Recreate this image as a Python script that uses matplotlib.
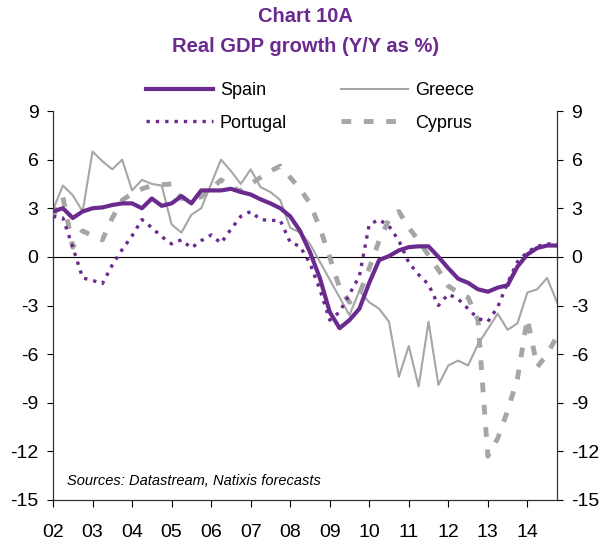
import numpy as np
import pandas as pd
import matplotlib
matplotlib.use('Agg')
import matplotlib.pyplot as plt
from matplotlib.lines import Line2D

# quarterly data, 2002Q1 .. 2014Q4
quarters = pd.period_range('2002Q1', '2014Q4', freq='Q')
years = [str(y)[2:] for y in range(2002, 2015)]

spain = [2.8, 3.0, 2.4, 2.8,
         3.0, 3.05, 3.2, 3.3,
         3.3, 3.0, 3.6, 3.15,
         3.3, 3.75, 3.3, 4.1,
         4.1, 4.1, 4.2, 4.0,
         3.85, 3.55, 3.3, 3.0,
         2.5, 1.6, 0.3, -1.3,
         -3.4, -4.4, -3.9, -3.2,
         -1.6, -0.2, 0.05, 0.4,
         0.6, 0.65, 0.65, 0.0,
         -0.7, -1.35, -1.6, -2.0,
         -2.15, -1.9, -1.75, -0.6,
         0.15, 0.55, 0.7, 0.7]

greece = [2.9, 4.4, 3.8, 2.8,
          6.5, 5.9, 5.4, 6.0,
          4.1, 4.75, 4.5, 4.4,
          2.0, 1.5, 2.6, 3.0,
          4.5, 6.0, 5.3, 4.5,
          5.4, 4.3, 4.0, 3.5,
          1.8, 1.5, 0.8, -0.3,
          -1.4, -2.5, -3.6, -2.1,
          -2.8, -3.2, -4.0, -7.4,
          -5.5, -8.0, -4.0, -7.9,
          -6.7, -6.4, -6.7, -5.4,
          -4.45, -3.5, -4.5, -4.1,
          -2.2, -2.0, -1.3, -2.8]

portugal = [2.5, 2.4, 0.6, -1.3,
            -1.45, -1.65, -0.5, 0.45,
            1.3, 2.3, 1.8, 1.25,
            0.8, 1.05, 0.55, 1.0,
            1.35, 0.85, 1.7, 2.5,
            2.8, 2.3, 2.25, 2.25,
            0.9, 0.65, -0.4, -2.0,
            -3.9, -3.4, -2.3, -1.2,
            2.0, 2.3, 1.9, 1.0,
            -0.35, -1.1, -1.7, -3.0,
            -2.3, -2.6, -3.2, -3.8,
            -4.0, -3.1, -1.6, -0.3,
            0.3, 0.65, 0.8, 0.8]

cyprus = [2.5, 3.7, 0.6, 1.6,
          1.3, 1.05, 2.4, 3.5,
          3.9, 4.2, 4.4, 4.45,
          4.5, 3.6, 3.6, 3.7,
          4.2, 4.75, 4.3, 4.05,
          4.5, 4.9, 5.3, 5.6,
          4.9, 4.2, 3.3, 1.8,
          0.0, -1.9, -2.8, -2.3,
          -0.7, 1.0, 2.3, 2.8,
          1.8, 1.0, 0.1, -0.8,
          -1.8, -2.2, -2.5, -3.9,
          -12.3, -11.2, -9.5, -7.5,
          -3.8, -6.8, -6.0, -4.9]

purple = '#6a2a8e'
grey = '#a6a6a6'

plt.rcParams['font.family'] = ['Liberation Sans', 'DejaVu Sans']
plt.rcParams['axes.unicode_minus'] = False

x = quarters.year + (quarters.quarter - 1) / 4

fig = plt.figure(figsize=(6.03, 5.52), dpi=100)
ax = fig.add_axes([53 / 603, 1 - 500 / 552, 504 / 603, 389 / 552])

ax.axhline(0, color='black', lw=0.8, zorder=1)
ax.plot(x, greece, color=grey, lw=1.5, zorder=2)
ax.plot(x, cyprus, color=grey, lw=3.5, ls=(0, (2, 2.6)), zorder=3)
ax.plot(x, portugal, color=purple, lw=2.4, ls=(0, (1, 1.8)), zorder=4)
ax.plot(x, spain, color=purple, lw=3, zorder=5, solid_joinstyle='round')

ax.set_xlim(2002, 2014.75)
ax.set_ylim(-15, 9)
ax.set_yticks(range(-15, 10, 3))
ax.set_xticks(range(2002, 2015))
ax.set_xticklabels(years)

ax.spines['top'].set_visible(False)
for s in ['left', 'right', 'bottom']:
    ax.spines[s].set_color('#333333')
    ax.spines[s].set_linewidth(0.9)

ax.tick_params(axis='y', left=True, right=True, labelleft=True, labelright=True,
               direction='out', length=4.5, width=0.8, pad=6, labelsize=14)
ax.tick_params(axis='x', direction='out', length=5, width=0.8, pad=12, labelsize=14)

ax.text(2002.35, -13.8, 'Sources: Datastream, Natixis forecasts', fontsize=10.5,
        style='italic', va='center', ha='left')

fig.text(0.506, 0.971, 'Chart 10A', fontsize=14.5, fontweight='bold', color=purple,
         ha='center', va='center')
fig.text(0.506, 0.915, 'Real GDP growth (Y/Y as %)', fontsize=14.5, fontweight='bold',
         color=purple, ha='center', va='center')

handles = [Line2D([], [], color=purple, lw=3),
           Line2D([], [], color=purple, lw=2.4, ls=(0, (1, 1.8))),
           Line2D([], [], color=grey, lw=1.5),
           Line2D([], [], color=grey, lw=3.5, ls=(0, (2, 2.6)))]
labels = ['Spain', 'Portugal', 'Greece', 'Cyprus']
fig.legend(handles, labels, ncol=2, loc='center', bbox_to_anchor=(0.514, 0.806),
           frameon=False, fontsize=13, handlelength=3.7, handletextpad=0.4,
           columnspacing=3.0, labelspacing=0.85, borderpad=0)

fig.savefig('out.png', dpi=100)
